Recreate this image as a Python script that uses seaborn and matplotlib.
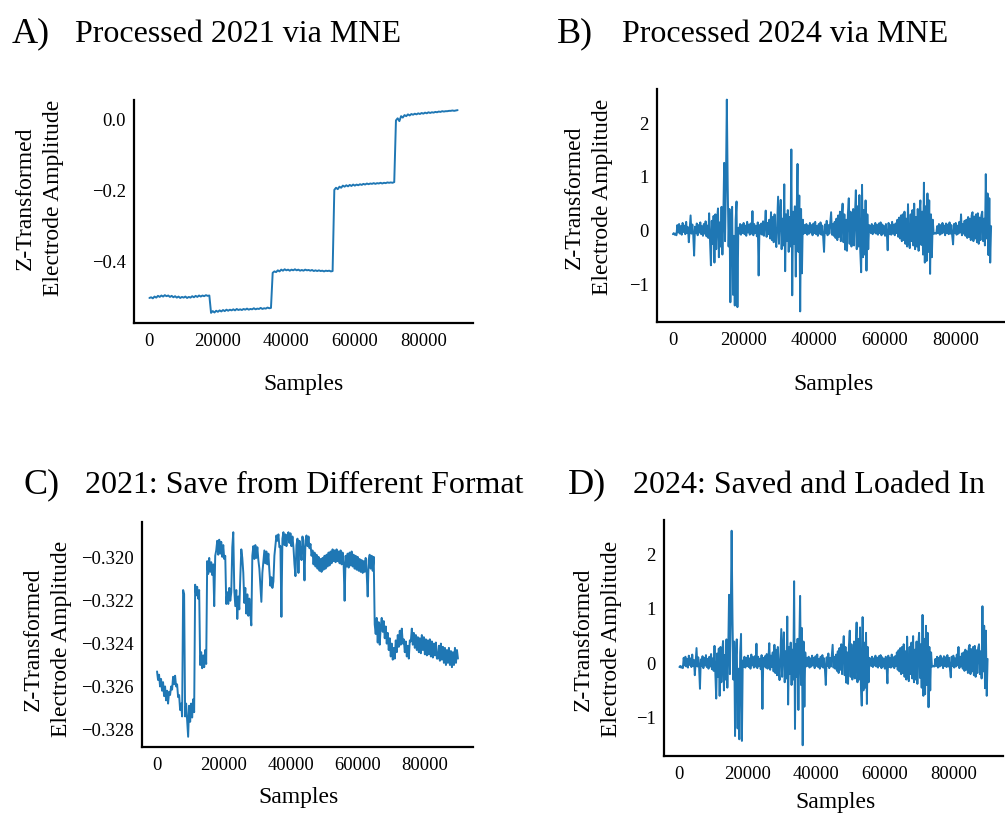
import numpy as np
import pandas as pd
import matplotlib
matplotlib.use("Agg")
import matplotlib.pyplot as plt
from matplotlib.ticker import FuncFormatter, FixedLocator
import seaborn as sns

# ---------------------------------------------------------------
# Signals (one electrode, z-transformed), sampled every STEP samples
# ---------------------------------------------------------------
STEP_2021_MNE = 500
mne_2021_seg1 = [-0.503, -0.501, -0.504, -0.499, -0.502, -0.497, -0.500, -0.496, -0.499, -0.495,
                 -0.498, -0.496, -0.500, -0.497, -0.501, -0.498, -0.502, -0.499, -0.503, -0.500,
                 -0.502, -0.499, -0.503, -0.500, -0.502, -0.498, -0.501, -0.497, -0.500, -0.496,
                 -0.499, -0.496, -0.498, -0.495, -0.497, -0.496]
mne_2021_seg2 = [-0.545, -0.540, -0.544, -0.539, -0.542, -0.538, -0.541, -0.537, -0.540, -0.536,
                 -0.539, -0.536, -0.538, -0.535, -0.538, -0.534, -0.537, -0.535, -0.537, -0.534,
                 -0.536, -0.533, -0.536, -0.534, -0.535, -0.532, -0.535, -0.533, -0.534, -0.531,
                 -0.534, -0.532, -0.533, -0.530, -0.532, -0.531]
mne_2021_seg3 = [-0.432, -0.428, -0.430, -0.425, -0.428, -0.423, -0.426, -0.422, -0.425, -0.423,
                 -0.426, -0.423, -0.425, -0.422, -0.425, -0.423, -0.426, -0.424, -0.426, -0.423,
                 -0.425, -0.424, -0.426, -0.424, -0.427, -0.425, -0.427, -0.425, -0.427, -0.426,
                 -0.428, -0.426, -0.427, -0.426, -0.428, -0.427]
mne_2021_seg4 = [-0.198, -0.192, -0.196, -0.189, -0.192, -0.186, -0.189, -0.185, -0.188, -0.184,
                 -0.187, -0.183, -0.186, -0.183, -0.185, -0.182, -0.184, -0.181, -0.183, -0.180,
                 -0.182, -0.180, -0.181, -0.179, -0.181, -0.179, -0.180, -0.178, -0.180, -0.178,
                 -0.179, -0.177, -0.178, -0.177, -0.178, -0.176]
mne_2021_seg5 = [-0.002, 0.004, -0.004, 0.010, 0.006, 0.013, 0.010, 0.015, 0.012, 0.016,
                 0.014, 0.017, 0.015, 0.018, 0.016, 0.019, 0.017, 0.020, 0.018, 0.021,
                 0.019, 0.021, 0.020, 0.022, 0.021, 0.023, 0.022, 0.024, 0.023, 0.024,
                 0.024, 0.025, 0.025, 0.026, 0.025, 0.026, 0.027]

STEP_2024 = 250
eeg_2024 = [
    -0.07, -0.05, -0.08, -0.06, -0.09, 0.10, -0.04, 0.12, -0.06, 0.08,
    -0.08, 0.14, -0.03, 0.09, -0.07, 0.16, -0.05, 0.06, -0.22, 0.04,
    0.28, -0.06, 0.11, -0.08, -0.47, 0.07, -0.05, 0.13, -0.09, 0.10,
    -0.04, 0.15, -0.07, 0.08, -0.10, 0.12, -0.06, 0.17, -0.11, 0.09,
    -0.14, 0.32, -0.20, -0.65, 0.18, -0.25, 0.27, -0.60, 0.30, -0.35,
    0.22, 0.41, -0.50, 0.15, -0.30, 0.44, -0.45, 0.20, 1.26, -0.20,
    0.90, 2.44, 0.85, -0.30, 0.40, -1.34, 0.10, 0.44, -1.20, -0.10,
    -1.40, 0.20, 0.54, -1.43, 0.05, -0.06, 0.12, -0.08, 0.10, -0.05,
    0.14, -0.07, 0.09, -0.10, 0.16, -0.04, 0.11, -0.08, 0.13, -0.06,
    0.36, -0.09, 0.12, -0.05, 0.08, -0.11, 0.15, -0.84, 0.10, -0.06,
    0.13, -0.08, 0.17, -0.10, 0.09, 0.37, -0.12, 0.14, -0.07, 0.20,
    -0.15, 0.34, -0.18, 0.25, -0.22, 0.30, -0.12, -0.31, 0.18, 0.63,
    -0.25, 0.28, 0.57, -0.35, 0.22, -0.28, 0.86, -0.76, 0.30, -0.20,
    0.38, -0.40, 0.25, -0.30, 1.51, -1.21, 0.35, -0.25, 0.45, -0.86,
    0.30, 1.24, -0.40, 0.65, -1.51, 0.40, -0.80, 0.20, -0.06, 0.10,
    -0.05, 0.12, -0.08, 0.09, -0.06, 0.14, -0.04, 0.10, -0.09, 0.13,
    -0.05, 0.16, -0.07, 0.08, -0.10, 0.12, -0.06, 0.15, -0.08, 0.09,
    -0.12, -0.40, 0.11, -0.05, 0.18, -0.09, 0.10, -0.06, 0.14, 0.34,
    -0.08, 0.12, -0.10, 0.16, -0.14, 0.22, -0.18, 0.28, -0.12, 0.35,
    -0.20, 0.25, 0.50, -0.22, 0.30, -0.36, 0.20, -0.38, 0.32, 0.60,
    -0.25, 0.35, -0.30, -0.18, 0.40, -0.28, 0.30, 0.75, -0.35, 0.45,
    -0.30, 0.66, -0.40, -0.78, 0.85, -0.50, 0.38, -0.45, 0.56, -0.75,
    0.30, -0.35, 0.10, 0.08, -0.05, 0.12, -0.07, 0.09, -0.04, 0.14,
    -0.06, 0.10, -0.08, 0.13, -0.05, 0.15, -0.09, 0.11, -0.06, 0.08,
    -0.10, 0.12, -0.05, -0.37, 0.14, -0.07, 0.10, -0.08, 0.16, -0.06,
    0.11, -0.09, 0.13, -0.05, 0.20, -0.12, 0.24, -0.15, 0.28, -0.20,
    0.30, -0.18, 0.35, -0.25, 0.22, -0.30, 0.49, -0.22, -0.33, 0.30,
    -0.20, 0.38, -0.28, 0.50, -0.35, 0.25, -0.30, 0.40, -0.38, 0.32,
    0.56, -0.27, 0.35, -0.45, 0.89, -0.60, 0.45, -0.57, 0.69, -0.40,
    0.56, -0.81, 0.30, -0.50, 0.20, -0.06, -0.06, -0.05, -0.06, 0.08,
    -0.05, 0.12, -0.08, 0.10, -0.06, 0.14, -0.04, 0.09, -0.09, 0.13,
    -0.05, 0.11, -0.07, 0.15, -0.06, 0.10, -0.10, -0.26, 0.12, -0.05,
    0.14, -0.08, 0.09, -0.06, 0.16, -0.04, 0.30, -0.09, 0.12, -0.06,
    0.18, -0.10, 0.20, -0.14, 0.25, -0.12, 0.22, -0.18, 0.28, 0.34,
    -0.20, 0.26, -0.15, 0.30, -0.22, 0.32, -0.25, 0.24, -0.18, 0.28,
    0.35, -0.20, 0.22, -0.28, 1.05, -0.15, 0.69, -0.46, 0.60, -0.60, 0.08,
]

STEP_2021_FMT = 300
fmt_2021 = [
    -0.32530, -0.32570, -0.32545, -0.32600, -0.32565, -0.32620, -0.32580, -0.32645, -0.32600, -0.32665,
    -0.32620, -0.32680, -0.32625, -0.32640, -0.32600, -0.32615, -0.32555, -0.32590, -0.32550, -0.32600,
    -0.32590, -0.32650, -0.32640, -0.32710, -0.32680, -0.32740, -0.32150, -0.32170, -0.32740, -0.32680,
    -0.32760, -0.32835, -0.32690, -0.32765, -0.32680, -0.32745, -0.32660, -0.32720, -0.32125, -0.32175,
    -0.32135, -0.32190, -0.32150, -0.32500, -0.32440, -0.32515, -0.32455, -0.32510, -0.32430, -0.32495,
    -0.32015, -0.32075, -0.32000, -0.32065, -0.32020, -0.32080, -0.32030, -0.32225, -0.31990, -0.31965,
    -0.31920, -0.31985, -0.31915, -0.31980, -0.31925, -0.31995, -0.31940, -0.32005, -0.31990, -0.32215,
    -0.32160, -0.32215, -0.32140, -0.32200, -0.32160, -0.31950, -0.31880, -0.32150, -0.32225, -0.32150,
    -0.32285, -0.32180, -0.32240, -0.32090, -0.31960, -0.32000, -0.32070, -0.32210, -0.32140, -0.32260,
    -0.32170, -0.32270, -0.32190, -0.32260, -0.32315, -0.31990, -0.31945, -0.32005, -0.31940, -0.32000,
    -0.31950, -0.32010, -0.32050, -0.32130, -0.32205, -0.32070, -0.32020, -0.31965, -0.32025, -0.31970,
    -0.32030, -0.31980, -0.32060, -0.32130, -0.32090, -0.32140, -0.32110, -0.31990, -0.31940, -0.31895,
    -0.31920, -0.31890, -0.31950, -0.31945, -0.32275, -0.31910, -0.31880, -0.31940, -0.31890, -0.31945,
    -0.31895, -0.31880, -0.31930, -0.31885, -0.31945, -0.31900, -0.31950, -0.32030, -0.32085, -0.31940,
    -0.31910, -0.32070, -0.31920, -0.31960, -0.32010, -0.31900, -0.31950, -0.32105, -0.31920, -0.31895,
    -0.31945, -0.31900, -0.31955, -0.31935, -0.31990, -0.31965, -0.32030, -0.31975, -0.32040, -0.31985,
    -0.32050, -0.31995, -0.32060, -0.32005, -0.32065, -0.32000, -0.32055, -0.31990, -0.32050, -0.31985,
    -0.32040, -0.31975, -0.32035, -0.31970, -0.32025, -0.31960, -0.32015, -0.31965, -0.32020, -0.31960,
    -0.32015, -0.31970, -0.32025, -0.31965, -0.32030, -0.31975, -0.32025, -0.32200, -0.31990, -0.32040,
    -0.31980, -0.32045, -0.31975, -0.32035, -0.31970, -0.32040, -0.31985, -0.32050, -0.31990, -0.32055,
    -0.31995, -0.32060, -0.32005, -0.32065, -0.32010, -0.32070, -0.32015, -0.32065, -0.32000, -0.32070,
    -0.32180, -0.32010, -0.31985, -0.32050, -0.31990, -0.32060, -0.31995, -0.32310, -0.32355, -0.32280,
    -0.32395, -0.32300, -0.32405, -0.32320, -0.32280, -0.32345, -0.32295, -0.32375, -0.32320, -0.32400,
    -0.32350, -0.32430, -0.32375, -0.32460, -0.32400, -0.32475, -0.32420, -0.32470, -0.32385, -0.32440,
    -0.32360, -0.32415, -0.32340, -0.32405, -0.32330, -0.32400, -0.32380, -0.32440, -0.32390, -0.32460,
    -0.32410, -0.32470, -0.32385, -0.32390, -0.32330, -0.32405, -0.32350, -0.32420, -0.32360, -0.32430,
    -0.32370, -0.32440, -0.32375, -0.32445, -0.32360, -0.32430, -0.32370, -0.32450, -0.32380, -0.32455,
    -0.32385, -0.32450, -0.32380, -0.32460, -0.32390, -0.32465, -0.32400, -0.32455, -0.32395, -0.32470,
    -0.32470, -0.32410, -0.32480, -0.32400, -0.32475, -0.32415, -0.32490, -0.32420, -0.32500, -0.32430,
    -0.32490, -0.32420, -0.32500, -0.32435, -0.32510, -0.32440, -0.32500, -0.32420, -0.32490, -0.32430, -0.32470,
]

x_ticks = [0, 20000, 40000, 60000, 80000]
yticks_a = [-0.4, -0.2, 0.0]
yticks_b = [-1, 0, 1, 2]
yticks_c = [-0.328, -0.326, -0.324, -0.322, -0.320]

panel_letters = ["A)", "B)", "C)", "D)"]
panel_titles = ["Processed 2021 via MNE", "Processed 2024 via MNE",
                "2021: Save from Different Format", "2024: Saved and Loaded In"]

# ---------------------------------------------------------------
sns.set_style("white", {"axes.edgecolor": "black", "text.color": "black",
                        "axes.labelcolor": "black", "xtick.color": "black",
                        "ytick.color": "black"})
plt.rcParams["font.family"] = ["Liberation Serif", "DejaVu Serif"]
plt.rcParams["axes.linewidth"] = 1.6

W, H = 1005, 814
fig = plt.figure(figsize=(W / 100, H / 100), dpi=100)
LINE = "#1f77b4"


def frame(left, top, right, bottom):
    return fig.add_axes([left / W, 1 - bottom / H, (right - left) / W, (bottom - top) / H])


def signal_frame(values, step):
    return pd.DataFrame({"sample": np.arange(len(values)) * step, "amp": values})


def minus(fmt):
    return FuncFormatter(lambda v, _: format(v, fmt).replace("-", "\u2212"))


def draw(ax, df, yticks, yfmt):
    sns.lineplot(data=df, x="sample", y="amp", ax=ax, color=LINE, linewidth=1.4,
                 estimator=None, sort=False)
    sns.despine(ax=ax)
    ax.set_xlabel("")
    ax.set_ylabel("")
    ax.xaxis.set_major_locator(FixedLocator(x_ticks))
    ax.yaxis.set_major_locator(FixedLocator(yticks))
    ax.yaxis.set_major_formatter(minus(yfmt))
    ax.tick_params(axis="both", length=0, labelsize=13.4, labelcolor="black")
    ax.tick_params(axis="x", pad=7)
    ax.tick_params(axis="y", pad=6)


df_a = signal_frame(mne_2021_seg1 + mne_2021_seg2 + mne_2021_seg3 + mne_2021_seg4 + mne_2021_seg5,
                    STEP_2021_MNE)
df_b = signal_frame(eeg_2024, STEP_2024)
df_c = signal_frame(fmt_2021, STEP_2021_FMT)

ax_a = frame(134, 100, 473, 323)
draw(ax_a, df_a, yticks_a, ".1f")
ax_b = frame(657, 89, 1007, 322)
draw(ax_b, df_b, yticks_b, ".0f")
ax_c = frame(142, 522, 473, 747)
draw(ax_c, df_c, yticks_c, ".3f")
ax_d = frame(664, 520, 1003, 756)
draw(ax_d, df_b, yticks_b, ".0f")

# Panel letters and titles
letter_pos = [(12, 42), (557, 42), (23, 493), (568, 493)]
title_pos = [(75, 42), (622, 42), (85, 493), (633, 493)]
for (lx, ly), (tx, ty), letter, title in zip(letter_pos, title_pos, panel_letters, panel_titles):
    fig.text(lx / W, 1 - ly / H, letter, fontsize=26, ha="left", va="baseline", color="black")
    fig.text(tx / W, 1 - ty / H, title, fontsize=23, ha="left", va="baseline", color="black")

# Axis labels
xlabel_pos = [(303, 390), (833, 390), (298, 803), (835, 808)]
ylabel_pos = [(39, 198), (588, 197), (47, 639), (597, 639)]
for (sx, sy), (yx, yy) in zip(xlabel_pos, ylabel_pos):
    fig.text(sx / W, 1 - sy / H, "Samples", fontsize=17, ha="center", va="baseline",
             color="black")
    fig.text(yx / W, 1 - yy / H, "Z-Transformed\nElectrode Amplitude", fontsize=17,
             rotation=90, ha="center", va="center", multialignment="center",
             linespacing=1.45, color="black")

fig.savefig("out.png", dpi=100)
